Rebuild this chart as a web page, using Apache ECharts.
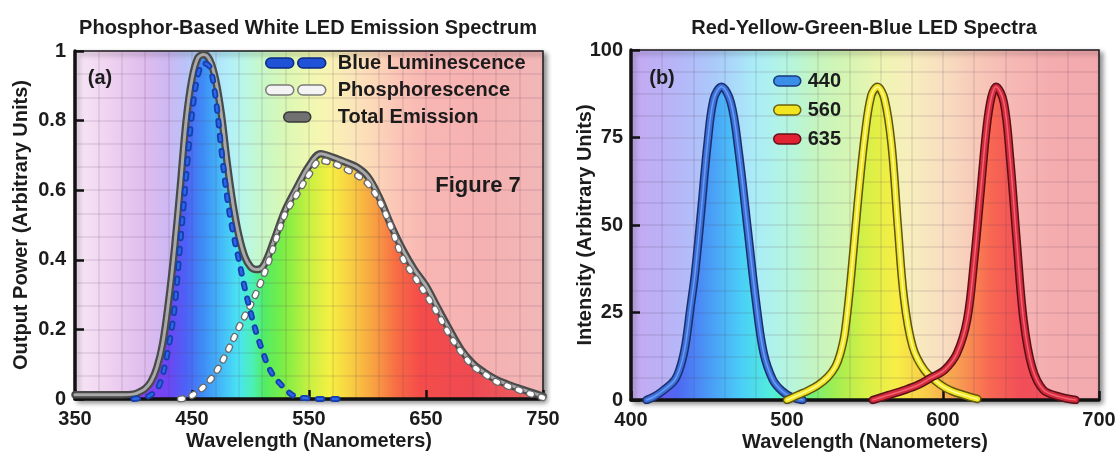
<!DOCTYPE html>
<html>
<head>
<meta charset="utf-8">
<script src="https://cdn.jsdelivr.net/npm/echarts@6/dist/echarts.min.js"></script>
<style>
html,body{margin:0;padding:0;background:#ffffff;}
#c{width:1119px;height:457px;}
</style>
</head>
<body>
<div id="c"></div>
<script>
// ---------------- DATA ----------------
// Panel (a): phosphor-based white LED
const totalWl  = [350,370,390,400,405,410,415,420,425,430,435,440,445,450,455,460,465,470,475,480,485,490,495,500,505,510,515,520,530,540,550,560,570,580,590,600,610,620,630,640,650,660,670,680,690,700,710,720,730,740,750];
const totalVal = [0.012,0.012,0.012,0.014,0.02,0.03,0.05,0.09,0.16,0.28,0.43,0.61,0.80,0.92,0.98,0.99,0.975,0.92,0.82,0.68,0.56,0.47,0.41,0.38,0.372,0.378,0.41,0.455,0.545,0.61,0.67,0.705,0.695,0.682,0.668,0.64,0.58,0.50,0.43,0.372,0.325,0.262,0.20,0.142,0.102,0.076,0.056,0.042,0.03,0.019,0.008];

const blueWl  = [400,410,415,420,425,430,435,440,445,450,455,460,465,470,475,480,485,490,495,500,505,510,515,520,525,530,535,540,550,560,575];
const blueVal = [0,0.005,0.012,0.026,0.07,0.15,0.26,0.45,0.64,0.82,0.93,0.965,0.955,0.87,0.72,0.58,0.48,0.40,0.32,0.25,0.19,0.14,0.095,0.065,0.045,0.028,0.013,0.005,0.002,0,0];

const phosWl  = [440,445,450,460,470,480,490,500,505,510,515,520,525,530,540,550,560,570,580,590,600,610,620,630,640,650,660,670,680,690,700,710,720,730,740,750];
const phosVal = [0,0.003,0.01,0.035,0.075,0.135,0.205,0.27,0.305,0.345,0.39,0.44,0.49,0.535,0.59,0.645,0.685,0.678,0.663,0.645,0.62,0.57,0.495,0.405,0.352,0.30,0.245,0.185,0.135,0.095,0.072,0.05,0.037,0.025,0.014,0.004];

// Panel (b): RGB LED spectra
const led440Wl  = [410,415,420,428,432,435,438,441,445,449,453,458,464,469,475,480,485,491,497,503,510];
const led440Val = [0,1,2.5,5.7,10,16,26,36,54,73,86,89.5,85,71,48,28.5,13.5,5.7,2.5,0.8,0];

const led560Wl  = [500,507,514,520,526,531,534,537,541,545.5,550,554,558,562.5,567,571,575,580.5,588,598.5,606,613.5,622];
const led560Val = [0,1.4,2.8,4.3,6.5,9.5,13,19,35,57,76,87,89.5,86,73,50,29,15.3,8.6,4.3,2.5,1.4,0.3];

const led635Wl  = [555,565,575,584,592,601,609,615.5,620,624,628,631,634,639,643,647.3,651.6,657,664.3,675,685];
const led635Val = [0,1.4,2.8,4.3,6.3,8.6,13.4,23,40,59,78,86.5,89.5,85,69,45,23,9.5,2.9,0.9,0];

// Tick labels
const leftXTicks  = [350,450,550,650,750];
const leftYTicks  = [0,0.2,0.4,0.6,0.8,1];
const rightXTicks = [400,500,600,700];
const rightYTicks = [0,25,50,75,100];

// ---------------- STYLE ----------------
const FONT = '"Liberation Sans", Arial, Helvetica, sans-serif';
const TXT = '#1c1c1c';
const GRIDLINE = 'rgba(90,60,90,0.14)';

const PASTEL_L = [[350,'#f8e8f7'],[380,'#efd2f0'],[410,'#dfbcee'],[430,'#cdb8f3'],[445,'#b9c3f8'],[460,'#b0d5fa'],[480,'#b2eefa'],[495,'#bbf7e6'],[510,'#c7f8c8'],[530,'#daf8b5'],[550,'#eef8b1'],[565,'#f9f5b3'],[585,'#fbe7b9'],[605,'#fcd8b9'],[625,'#fbc5b7'],[650,'#f8b6b3'],[700,'#f5b1b1'],[750,'#f2b7b7']];
const VIVID_L  = [[380,'#a042e0'],[410,'#8a3ef0'],[430,'#6c46f4'],[445,'#4c62f6'],[460,'#3e8ef6'],[475,'#44baf8'],[490,'#4ae4f4'],[502,'#4cf0b4'],[512,'#52ec64'],[530,'#82ee42'],[550,'#c6f042'],[568,'#f6f042'],[585,'#f8d042'],[605,'#f8a242'],[625,'#f86c44'],[645,'#f44c4a'],[690,'#f04a52'],[750,'#e86464']];
const PASTEL_R = [[400,'#c6a8f0'],[430,'#b6b6f8'],[455,'#aacbfa'],[480,'#aaedf8'],[500,'#b4f5e0'],[520,'#c6f5bd'],[540,'#d6f5b2'],[560,'#eef5b2'],[580,'#f8edbe'],[600,'#f8dec0'],[620,'#f8cab9'],[640,'#f7bab5'],[670,'#f4acae'],[700,'#f3aab0']];
const VIVID_R  = [[410,'#7a52f0'],[430,'#4e68f2'],[450,'#4a9af6'],[470,'#4acdf8'],[490,'#52eedc'],[510,'#62ee84'],[530,'#9eee52'],[550,'#d6f046'],[570,'#f8ee46'],[590,'#f8ca4a'],[610,'#f89c52'],[630,'#f86852'],[650,'#f24e58'],[700,'#ec5262']];

const G1 = {left:75, top:51, width:468, height:348};
const G2 = {left:631, top:50, width:468, height:350};

function stopsFor(nm0, nm1, stops){
  return stops.map(s => ({offset: Math.min(1, Math.max(0, (s[0]-nm0)/(nm1-nm0))), color: s[1]}));
}
function pairs(xs, ys){ return xs.map((x,i)=>[x, ys[i]]); }

const bgL = new echarts.graphic.LinearGradient(0,0,1,0, stopsFor(350,750,PASTEL_L), false);
const bgR = new echarts.graphic.LinearGradient(0,0,1,0, stopsFor(400,700,PASTEL_R), false);
const fillL = new echarts.graphic.LinearGradient(G1.left,0,G1.left+G1.width,0, stopsFor(350,750,VIVID_L), true);
const fillR = new echarts.graphic.LinearGradient(G2.left,0,G2.left+G2.width,0, stopsFor(400,700,VIVID_R), true);

function gridOf(g, bg){
  return Object.assign({}, g, {
    show:true, backgroundColor:bg, borderColor:'#1a1a1a', borderWidth:1.5,
    shadowBlur:5, shadowColor:'rgba(0,0,0,0.45)', shadowOffsetX:3, shadowOffsetY:3,
    containLabel:false, outerBoundsMode:'none', z:0
  });
}

function axisCommon(idx, ticks, minorN, name, nameGap){
  return {
    type:'value', gridIndex:idx,
    min:ticks[0], max:ticks[ticks.length-1], interval:ticks[1]-ticks[0],
    z:2,
    axisLine:{show:true, onZero:false, lineStyle:{color:'#111', width:3.5}},
    axisTick:{show:true, inside:true, length:9, lineStyle:{color:'#111', width:2.5}},
    axisLabel:{color:TXT, fontSize:20, fontWeight:'bold', fontFamily:FONT},
    splitLine:{show:true, lineStyle:{color:GRIDLINE, width:1.5}},
    minorTick:{show:false, splitNumber:minorN},
    minorSplitLine:{show:true, lineStyle:{color:GRIDLINE, width:1.5}},
    name:name, nameLocation:'middle', nameGap:nameGap, nameMoveOverlap:false,
    nameTextStyle:{color:TXT, fontSize:20, fontWeight:'bold', fontFamily:FONT}
  };
}

const xL = axisCommon(0, leftXTicks, 5, 'Wavelength (Nanometers)', 32);  xL.axisLabel.margin = 10;
const xR = axisCommon(1, rightXTicks, 5, 'Wavelength (Nanometers)', 32); xR.axisLabel.margin = 10;
const yL = axisCommon(0, leftYTicks, 3, 'Output Power (Arbitrary Units)', 44); yL.axisLabel.margin = 9;
const yR = axisCommon(1, rightYTicks, 4, 'Intensity (Arbitrary Units)', 36);   yR.axisLabel.margin = 8;

function lineSeries(name, ai, data, color, width, z, extra){
  return Object.assign({
    type:'line', name:name, xAxisIndex:ai, yAxisIndex:ai, data:data,
    smooth:0.35, showSymbol:false, symbol:'none', silent:true, z:z,
    itemStyle:{color:color},
    lineStyle:{color:color, width:width, cap:'round', join:'round'}
  }, extra || {});
}
function areaSeries(name, ai, data, fill){
  return {
    type:'line', name:name, xAxisIndex:ai, yAxisIndex:ai, data:data,
    smooth:0.35, showSymbol:false, symbol:'none', silent:true, z:1,
    lineStyle:{width:0, opacity:0}, areaStyle:{color:fill, opacity:1}
  };
}
function dashed(name, ai, data, color, width, dash, z){
  const s = lineSeries(name, ai, data, color, width, z);
  s.lineStyle.type = dash;
  return s;
}

const totalData = pairs(totalWl, totalVal);
const blueData  = pairs(blueWl, blueVal);
const phosData  = pairs(phosWl, phosVal);
const d440 = pairs(led440Wl, led440Val);
const d560 = pairs(led560Wl, led560Val);
const d635 = pairs(led635Wl, led635Val);

const CAP2 = 'path://M5,0H23A5,5,0,0,1,23,10H5A5,5,0,0,1,5,0ZM37,0H55A5,5,0,0,1,55,10H37A5,5,0,0,1,37,0Z';
const CAP1 = 'path://M5,0H22A5,5,0,0,1,22,10H5A5,5,0,0,1,5,0Z';
const legendText = {color:TXT, fontSize:20, fontWeight:'bold', fontFamily:FONT, lineHeight:20};

function txt(x, y, s, size){
  return {type:'text', x:x, y:y, z:20,
    style:{text:s, fill:TXT, font:'bold '+size+'px '+FONT, align:'center', verticalAlign:'middle', textAlign:'center', textVerticalAlign:'middle'}};
}

const option = {
  animation:false,
  backgroundColor:'#ffffff',
  grid:[gridOf(G1, bgL), gridOf(G2, bgR)],
  xAxis:[xL, xR],
  yAxis:[yL, yR],
  legend:[
    {data:[{name:'Blue Luminescence', icon:CAP2, itemStyle:{color:'#1f52d6', borderColor:'#0b2a80', borderWidth:1.5}}],
     left:265, top:53, padding:0, itemWidth:60, itemHeight:10, selectedMode:false, z:10,
     textStyle:Object.assign({padding:[0,0,0,7]}, legendText)},
    {data:[{name:'Phosphorescence', icon:CAP2, itemStyle:{color:'#f4f4f4', borderColor:'#7a7a7a', borderWidth:1.5}}],
     left:265, top:80, padding:0, itemWidth:60, itemHeight:10, selectedMode:false, z:10,
     textStyle:Object.assign({padding:[0,0,0,7]}, legendText)},
    {data:[{name:'Total Emission', icon:CAP1, itemStyle:{color:'#707070', borderColor:'#383838', borderWidth:1.5}}],
     left:283, top:107, padding:0, itemWidth:27, itemHeight:10, selectedMode:false, z:10,
     textStyle:Object.assign({padding:[0,0,0,22]}, legendText)},
    {data:[
       {name:'440', icon:CAP1, itemStyle:{color:'#3a8ee8', borderColor:'#173a7c', borderWidth:1.5}},
       {name:'560', icon:CAP1, itemStyle:{color:'#f2e41e', borderColor:'#6a6010', borderWidth:1.5}},
       {name:'635', icon:CAP1, itemStyle:{color:'#e02232', borderColor:'#641018', borderWidth:1.5}}],
     orient:'vertical', left:773, top:71, padding:0, itemGap:9, itemWidth:27, itemHeight:10, selectedMode:false, z:10,
     textStyle:Object.assign({padding:[0,0,0,2]}, legendText)}
  ],
  graphic:[
    txt(308, 28, 'Phosphor-Based White LED Emission Spectrum', 20),
    txt(864, 28, 'Red-Yellow-Green-Blue LED Spectra', 20),
    txt(100, 78, '(a)', 20),
    txt(662, 78, '(b)', 20),
    txt(478, 186, 'Figure 7', 22)
  ],
  series:[
    // panel (a)
    areaSeries('fillA', 0, totalData, fillL),
    lineSeries('Total Emission', 0, totalData, '#4a4a4a', 7.5, 3),
    lineSeries('Total Emission', 0, totalData, '#a9a9a9', 3, 3),
    dashed('Phosphorescence', 0, phosData, '#6a6a6a', 7, [2.5,9.5], 4),
    dashed('Phosphorescence', 0, phosData, '#ffffff', 4.5, [2.5,9.5], 4),
    dashed('Blue Luminescence', 0, blueData, '#143fae', 6, [4.5,10.5], 5),
    dashed('Blue Luminescence', 0, blueData, '#2e66e6', 2.5, [4.5,10.5], 5),
    // panel (b)
    areaSeries('fill440', 1, d440, fillR),
    areaSeries('fill560', 1, d560, fillR),
    areaSeries('fill635', 1, d635, fillR),
    lineSeries('440', 1, d440, '#1b2f6e', 8.5, 3),
    lineSeries('440', 1, d440, '#3b6fd8', 5.5, 3),
    lineSeries('440', 1, d440, '#6c9cf2', 1.5, 3),
    lineSeries('560', 1, d560, '#5e5610', 8.5, 3),
    lineSeries('560', 1, d560, '#f2e622', 5.5, 3),
    lineSeries('560', 1, d560, '#fffa9a', 1.5, 3),
    lineSeries('635', 1, d635, '#5a1018', 8.5, 3),
    lineSeries('635', 1, d635, '#d42a3c', 5.5, 3),
    lineSeries('635', 1, d635, '#f06474', 1.5, 3)
  ]
};

const chart = echarts.init(document.getElementById('c'), null, {renderer:'canvas', width:1119, height:457});
chart.setOption(option);
</script>
</body>
</html>
